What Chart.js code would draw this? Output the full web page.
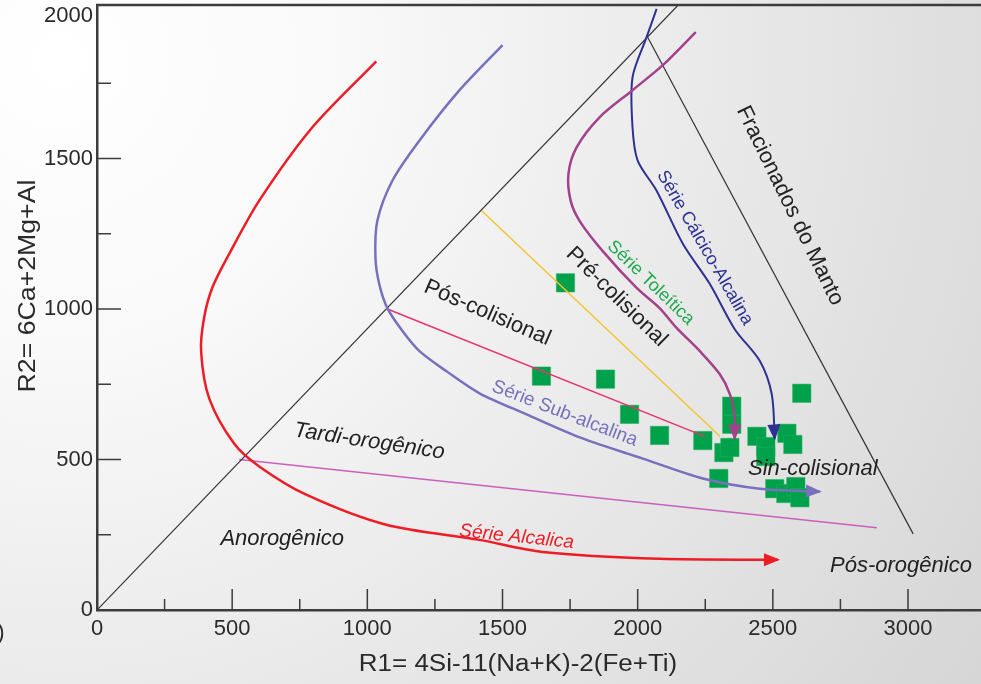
<!DOCTYPE html>
<html>
<head>
<meta charset="utf-8">
<script src="https://cdn.jsdelivr.net/npm/chart.js@4.4.0/dist/chart.umd.min.js"></script>
<style>
  html, body { margin: 0; padding: 0; overflow: hidden; }
  #wrap { position: relative; width: 981px; height: 684px; }
  #r1r2Chart { display: block; }
</style>
</head>
<body>
<div id="wrap"><canvas id="r1r2Chart"></canvas></div>
<script>
// values
const alcalicaR1 = [1033, 796, 600, 489, 426, 396, 385, 415, 507, 600, 774, 1070, 1415, 1648, 2081, 2519];
const alcalicaR2 = [1823, 1603, 1360, 1183, 1070, 970, 860, 703, 553, 477, 383, 283, 233, 193, 170, 167];

const subAlcalinaR1 = [1500, 1341, 1193, 1093, 1037, 1030, 1044, 1074, 1130, 1193, 1293, 1415, 1589, 1796, 2019, 2241, 2452, 2674];
const subAlcalinaR2 = [1877, 1727, 1560, 1427, 1293, 1170, 1083, 1003, 927, 860, 793, 720, 650, 570, 503, 437, 403, 393];

const toleiticaR1 = [2215, 2093, 1981, 1859, 1774, 1744, 1752, 1785, 1870, 1996, 2081, 2144, 2230, 2304, 2341, 2359, 2359];
const toleiticaR2 = [1920, 1810, 1727, 1637, 1537, 1450, 1360, 1293, 1193, 1070, 1003, 937, 860, 783, 717, 637, 570];

const calcicoR1 = [2070, 2033, 1981, 1981, 2000, 2070, 2167, 2267, 2359, 2452, 2496, 2507];
const calcicoR2 = [1997, 1903, 1770, 1603, 1493, 1393, 1217, 1083, 933, 827, 717, 570];

// field boundaries
const diagonalR1 = [0, 2150];
const diagonalR2 = [0, 2010];
const mantoR1 = [2037, 3019];
const mantoR2 = [1903, 253];
const tardiR1 = [526, 2885];
const tardiR2 = [500, 273];
const posColR1 = [1074, 2248];
const posColR2 = [1000, 577];
const preColR1 = [1422, 2304];
const preColR2 = [1327, 577];

// samples
const sampleR1 = [1733, 1644, 1881, 1970, 2081, 2241, 2348, 2348, 2319, 2341, 2300, 2607, 2441, 2474, 2474, 2552, 2574, 2507, 2548, 2585, 2600];
const sampleR2 = [1087, 777, 767, 650, 580, 563, 677, 617, 523, 540, 437, 720, 577, 543, 510, 587, 550, 403, 387, 410, 373];

// ticks
const xTickLabels = [0, 500, 1000, 1500, 2000, 2500, 3000];
const yTickLabels = [0, 500, 1000, 1500, 2000];
const xMajorTicks = [500, 1000, 1500, 2000, 2500, 3000];
const xMinorTicks = [250, 750, 1250, 1750, 2250, 2750];
const yMajorTicks = [500, 1000, 1500];
const yMinorTicks = [250, 750, 1250, 1750];
const yTopLabel = 2000;

const FONT = "'Liberation Sans', Arial, sans-serif";

const pts = (xs, ys) => xs.map((x, i) => ({ x: x, y: ys[i] }));

const fieldLabels = [
  { text: 'Fracionados do Manto', r1: 2563, r2: 1343, angle: 64, color: '#222', size: 22, italic: false },
  { text: 'Série Cálcico-Alcalina', r1: 2248, r2: 1203, angle: 60, color: '#2e3192', size: 18, italic: false },
  { text: 'Série Toleítica', r1: 2048, r2: 1087, angle: 44, color: '#1fa84f', size: 18, italic: false },
  { text: 'Pré-colisional', r1: 1922, r2: 1040, angle: 44.4, color: '#222', size: 22, italic: false },
  { text: 'Pós-colisional', r1: 1444, r2: 987, angle: 23.5, color: '#222', size: 22, italic: false },
  { text: 'Série Sub-alcalina', r1: 1730, r2: 653, angle: 21, color: '#7771bd', size: 19, italic: false },
  { text: 'Tardi-orogênico', r1: 1007, r2: 560, angle: 8.5, color: '#222', size: 22, italic: true },
  { text: 'Anorogênico', r1: 685, r2: 237, angle: 0, color: '#222', size: 22, italic: true },
  { text: 'Série Alcalica', r1: 1552, r2: 243, angle: 6, color: '#ee1c25', size: 19, italic: true },
  { text: 'Sin-colisional', r1: 2648, r2: 470, angle: 0, color: '#222', size: 22, italic: true },
  { text: 'Pós-orogênico', r1: 2974, r2: 147, angle: 0, color: '#222', size: 22, italic: true }
];

const background = {
  id: 'background',
  beforeDraw(chart) {
    const ctx = chart.ctx;
    const g = ctx.createRadialGradient(60, 60, 0, 60, 60, 1150);
    g.addColorStop(0, '#ffffff');
    g.addColorStop(0.25, '#f9f9f9');
    g.addColorStop(1, '#d4d4d4');
    ctx.save();
    ctx.fillStyle = g;
    ctx.fillRect(0, 0, chart.width, chart.height);
    ctx.restore();
  }
};

// inward tick marks, top frame line, axis titles
const innerTicks = {
  id: 'innerTicks',
  afterDraw(chart) {
    const ctx = chart.ctx;
    const xs = chart.scales.x, ys = chart.scales.y;
    const area = chart.chartArea;
    ctx.save();
    ctx.strokeStyle = '#3c3c3c';
    ctx.lineWidth = 1.5;
    ctx.beginPath();
    xMajorTicks.forEach(v => { const p = xs.getPixelForValue(v); ctx.moveTo(p, area.bottom); ctx.lineTo(p, area.bottom - 21); });
    xMinorTicks.forEach(v => { const p = xs.getPixelForValue(v); ctx.moveTo(p, area.bottom); ctx.lineTo(p, area.bottom - 11); });
    yMajorTicks.forEach(v => { const p = ys.getPixelForValue(v); ctx.moveTo(area.left, p); ctx.lineTo(area.left + 24, p); });
    yMinorTicks.forEach(v => { const p = ys.getPixelForValue(v); ctx.moveTo(area.left, p); ctx.lineTo(area.left + 14, p); });
    ctx.stroke();
    ctx.lineWidth = 2.5;
    ctx.beginPath();
    ctx.moveTo(area.left - 1, area.top);
    ctx.lineTo(area.right, area.top);
    ctx.stroke();

    ctx.fillStyle = '#2a2a2a';
    ctx.textBaseline = 'middle';
    // top y label sits a little below its tick, as in the figure
    ctx.textAlign = 'right';
    ctx.font = '22px ' + FONT;
    ctx.fillText(String(yTopLabel), area.left - 4, ys.getPixelForValue(yTopLabel) + 8);
    ctx.textAlign = 'center';
    ctx.fillText(')', 1, 633);
    ctx.font = '23px ' + FONT;
    ctx.save();
    ctx.translate(518, 665);
    ctx.scale(1.13, 1);
    ctx.fillText('R1= 4Si-11(Na+K)-2(Fe+Ti)', 0, 0);
    ctx.restore();
    ctx.translate(29, 286);
    ctx.rotate(-Math.PI / 2);
    ctx.scale(1.16, 1);
    ctx.fillText('R2= 6Ca+2Mg+Al', 0, 0);
    ctx.restore();
  }
};

const arrowHeads = {
  id: 'arrowHeads',
  afterDatasetsDraw(chart) {
    const ctx = chart.ctx;
    chart.data.datasets.forEach((ds, i) => {
      if (!ds.arrow) return;
      const el = chart.getDatasetMeta(i).data;
      const a = el[el.length - 2], b = el[el.length - 1];
      const ang = Math.atan2(b.y - a.y, b.x - a.x);
      ctx.save();
      ctx.translate(b.x, b.y);
      ctx.rotate(ang);
      ctx.fillStyle = ds.borderColor;
      ctx.beginPath();
      ctx.moveTo(2, 0);
      ctx.lineTo(-14, -6.5);
      ctx.lineTo(-14, 6.5);
      ctx.closePath();
      ctx.fill();
      ctx.restore();
    });
  }
};

const fieldText = {
  id: 'fieldText',
  afterDatasetsDraw(chart) {
    const ctx = chart.ctx;
    const xs = chart.scales.x, ys = chart.scales.y;
    fieldLabels.forEach(l => {
      ctx.save();
      ctx.translate(xs.getPixelForValue(l.r1), ys.getPixelForValue(l.r2));
      ctx.rotate(l.angle * Math.PI / 180);
      ctx.font = (l.italic ? 'italic ' : '') + l.size + 'px ' + FONT;
      ctx.fillStyle = l.color;
      ctx.textAlign = 'center';
      ctx.textBaseline = 'middle';
      ctx.fillText(l.text, 0, 0);
      ctx.restore();
    });
  }
};

const lineSet = (data, color, width, arrow) => ({
  data: data,
  showLine: true,
  borderColor: color,
  borderWidth: width,
  pointRadius: 0,
  tension: arrow ? 0.3 : 0,
  fill: false,
  arrow: arrow
});

new Chart(document.getElementById('r1r2Chart'), {
  type: 'scatter',
  data: {
    datasets: [
      lineSet(pts(alcalicaR1, alcalicaR2), '#ee1c25', 2.5, true),
      lineSet(pts(subAlcalinaR1, subAlcalinaR2), '#7771bd', 2.5, true),
      lineSet(pts(toleiticaR1, toleiticaR2), '#a3418a', 2.5, true),
      lineSet(pts(calcicoR1, calcicoR2), '#2e3192', 2, true),
      lineSet(pts(diagonalR1, diagonalR2), '#333333', 1.2, false),
      lineSet(pts(mantoR1, mantoR2), '#333333', 1.2, false),
      lineSet(pts(tardiR1, tardiR2), '#cc5fbb', 1.5, false),
      lineSet(pts(posColR1, posColR2), '#e8336e', 1.5, false),
      lineSet(pts(preColR1, preColR2), '#f5c530', 1.5, false),
      {
        data: pts(sampleR1, sampleR2),
        pointStyle: 'rect',
        pointRadius: 13,
        pointHoverRadius: 13,
        backgroundColor: '#00a14b',
        borderColor: '#2bb063',
        borderWidth: 0.5
      }
    ]
  },
  options: {
    responsive: true,
    maintainAspectRatio: false,
    devicePixelRatio: 1,
    animation: false,
    events: [],
    layout: { autoPadding: false, padding: { top: 5, right: 0, bottom: 0, left: 0 } },
    plugins: { legend: { display: false }, tooltip: { enabled: false } },
    scales: {
      x: {
        type: 'linear',
        min: 0,
        max: 3270,
        grid: { display: false, drawTicks: false },
        border: { display: true, color: '#3c3c3c', width: 2.5 },
        ticks: { autoSkip: false, color: '#2a2a2a', padding: 6, maxRotation: 0, font: { size: 22, family: FONT }, callback: v => String(v) },
        afterBuildTicks: s => { s.ticks = xTickLabels.map(v => ({ value: v })); },
        afterFit: s => { s.height = 74; s.paddingLeft = 0; s.paddingRight = 0; }
      },
      y: {
        type: 'linear',
        min: 0,
        max: 2010,
        grid: { display: false, drawTicks: false },
        border: { display: true, color: '#3c3c3c', width: 2.5 },
        ticks: { autoSkip: false, color: '#2a2a2a', padding: 4, font: { size: 22, family: FONT }, callback: v => (v === yTopLabel ? '' : String(v)) },
        afterBuildTicks: s => { s.ticks = yTickLabels.map(v => ({ value: v })); },
        afterFit: s => { s.width = 97; s.paddingTop = 0; s.paddingBottom = 0; }
      }
    }
  },
  plugins: [background, innerTicks, arrowHeads, fieldText]
});
</script>
</body>
</html>
